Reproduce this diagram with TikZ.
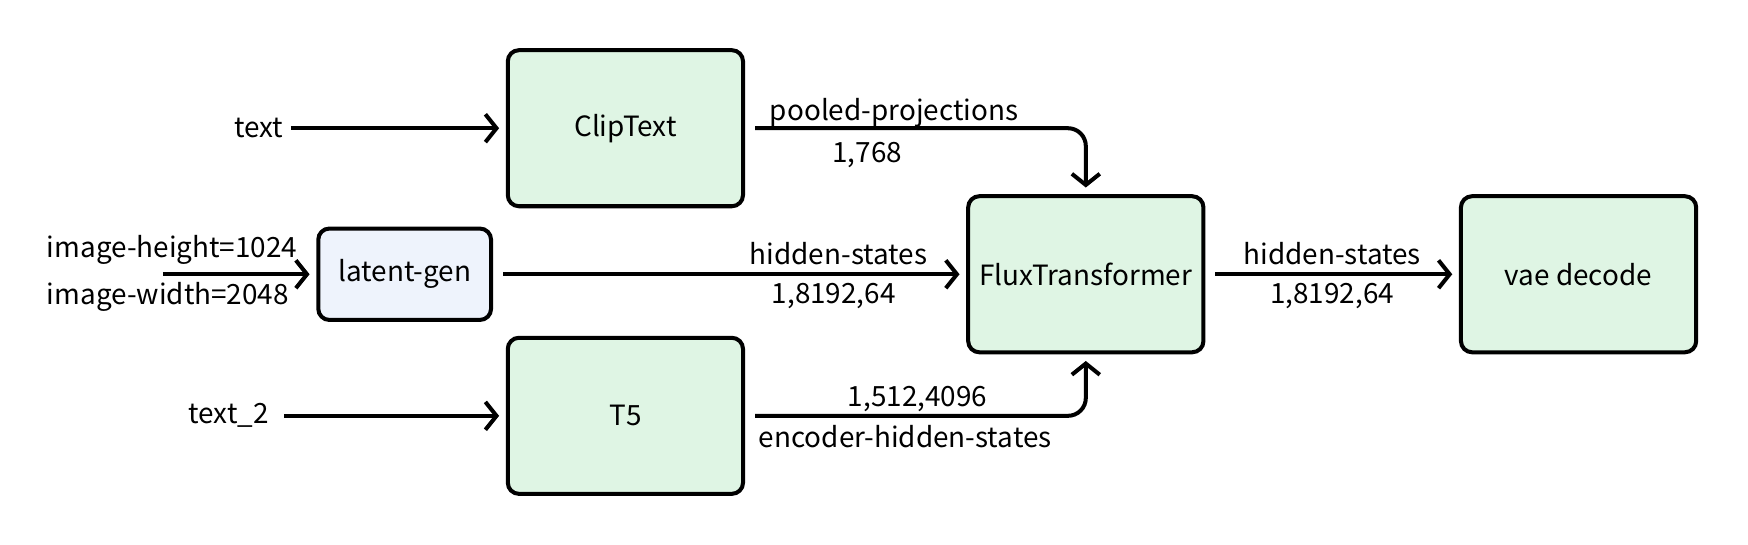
\documentclass[tikz,border=0pt]{standalone}
\usepackage{fontspec}
\setmainfont{Noto Sans CJK SC}
\usetikzlibrary{arrows.meta}
\definecolor{boxgreen}{RGB}{223,245,228}
\definecolor{boxblue}{RGB}{238,243,252}
\tikzset{
  blk/.style={draw, line width=1.8pt, rounded corners=5pt, fill=boxgreen,
    minimum width=105.5pt, minimum height=70pt, font=\fontsize{12.5}{15}\selectfont},
  lbl/.style={font=\fontsize{12.5}{15}\selectfont},
  flow/.style={-{Straight Barb[length=5pt,width=12.5pt]}, line width=1.8pt, shorten >=3pt}
}

\begin{document}
\begin{tikzpicture}[x=0.5pt,y=-0.5pt]
  \useasboundingbox (0,0) rectangle (1568,488);
  % blocks
  \node[blk] (clip) at (561,115) {ClipText};
  \node[blk] (t5) at (561,373) {T5};
  \node[blk, fill=boxblue, minimum width=77.5pt, minimum height=41pt] (gen) at (363,246) {latent-gen};
  \node[blk] (flux) at (974,246) {FluxTransformer};
  \node[blk] (vae) at (1416,246) {vae decode};
  % inputs
  \node[lbl, anchor=east] (txt) at (261,115) {text};
  \node[lbl, anchor=east] (txttwo) at (248,373) {text\_2};
  \node[lbl, anchor=west] (imgh) at (35,224) {image-height=1024};
  \node[lbl, anchor=west] (imgw) at (35,266) {image-width=2048};
  \coordinate (imgin) at (146,246);

  \path[flow]
    (txt.east) edge (clip.west)
    (txttwo.east) edge[shorten <=3.5pt] (t5.west)
    (imgin) edge (gen.west);
  \path[flow, shorten <=4.5pt]
    (gen.east) edge node[pos=0.73, above, lbl] (hs) {hidden-states}
                    node[pos=0.72, below, lbl] (hsd) {1,8192,64} (flux.west)
    (flux.east) edge node[above, lbl] (hso) {hidden-states}
                     node[below, lbl] (hsod) {1,8192,64} (vae.west);

  \draw[flow, shorten <=4.5pt, rounded corners=8pt] (clip.east) -| (flux.north);
  \draw[flow, shorten <=4.5pt, rounded corners=8pt] (t5.east) -| (flux.south);
  \node[lbl, anchor=base] (pp) at (802,108) {pooled-projections};
  \node[lbl, anchor=base] (ppd) at (778,146) {1,768};
  \node[lbl, anchor=base] (ehd) at (823,365) {1,512,4096};
  \node[lbl, anchor=base] (eh) at (812,401) {encoder-hidden-states};
\end{tikzpicture}
\end{document}
